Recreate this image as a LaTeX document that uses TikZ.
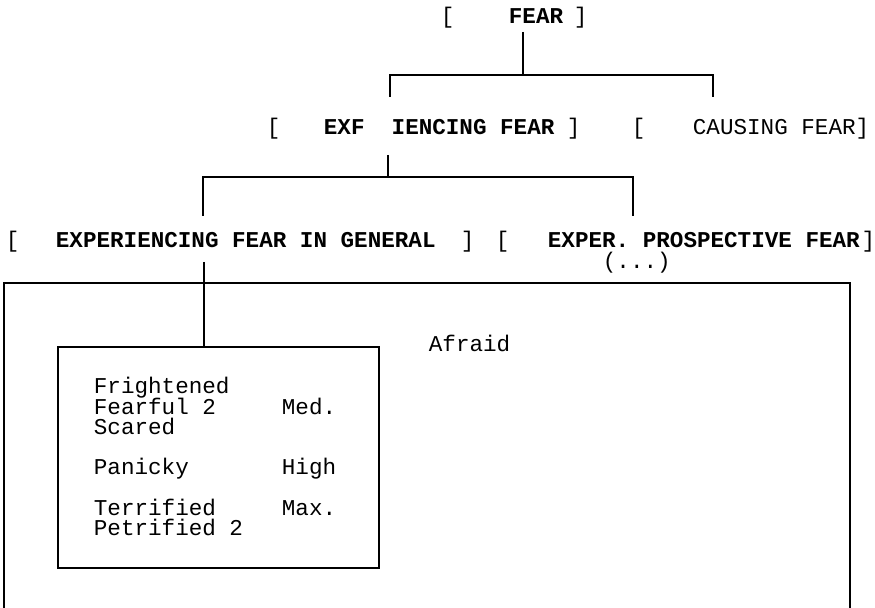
\documentclass[tikz,border=0pt]{standalone}
\usepackage{fontspec}
\setmonofont{Liberation Mono}
\usetikzlibrary{positioning}

\begin{document}
\begin{tikzpicture}[x=0.5pt,y=-0.5pt,
  txt/.style = {anchor=base west, inner sep=0pt,
  font=\ttfamily\fontsize{11.3}{13}\selectfont},
  head/.style = {txt, font=\ttfamily\bfseries\fontsize{11.3}{13}\selectfont},
  box/.style = {draw, rectangle, inner sep=0pt},
  line width=0.9pt
  ]
  \useasboundingbox (0,0) rectangle (875,608);

  % level 1
  \node[txt] (fearl) at (440,24) {[};
  \node[head] (fear) at (508,24) {FEAR};
  \node[txt] (fearr) at (573,24) {]};

  % level 2
  \node[txt] (expl) at (266,135) {[};
  \node[head] (exp) at (323,135) {EXF\ \ IENCING FEAR};
  \node[txt] (expr) at (566,135) {]};
  \node[txt] (causl) at (631,135) {[};
  \node[txt] (caus) at (692,135) {CAUSING FEAR]};

  % level 3
  \node[txt] (genl) at (5,248) {[};
  \node[head] (gen) at (55,248) {EXPERIENCING FEAR IN GENERAL};
  \node[txt] (genr) at (460,248) {]};
  \node[txt] (prospl) at (495,248) {[};
  \node[head] (prosp) at (547,248) {EXPER. PROSPECTIVE FEAR};
  \node[txt] (prospr) at (prosp.base east) {]};
  \node[txt] (dots) at (602,269) {(...)};

  % frame and inner box
  \coordinate (framebl) at (4,608);
  \coordinate (frametr) at (850,283);
  \coordinate (framebr) at (850,608);
  \draw (framebl) |- (frametr) -- (framebr);

  \node[txt] (afraid) at (428,352) {Afraid};

  \node[box, minimum width=160.5pt, minimum height=110.5pt,
  anchor=north west] (syn) at (57,346) {};

  \node[txt] (fright) at (93,394) {Frightened};
  \node[txt] (fearful) at (93,415) {Fearful 2};
  \node[txt] (scared) at (93,435) {Scared};
  \node[txt] (panicky) at (93,475) {Panicky};
  \node[txt] (terrif) at (93,516) {Terrified};
  \node[txt] (petrif) at (93,536) {Petrified 2};

  \node[txt] (med) at (281,415) {Med.};
  \node[txt] (high) at (281,475) {High};
  \node[txt] (max) at (281,516) {Max.};

  % tree connectors
  \coordinate (fearstem) at (523,32);
  \coordinate (fork1) at (523,75);
  \coordinate (expdrop) at (390,97);
  \coordinate (causdrop) at (713,97);
  \draw (fearstem) -- (fork1);
  \draw (expdrop) |- (fork1) -| (causdrop);

  \coordinate (expstem) at (388,155);
  \coordinate (fork2) at (388,177);
  \coordinate (gendrop) at (203,216);
  \coordinate (prospdrop) at (633,216);
  \draw (expstem) -- (fork2);
  \draw (gendrop) |- (fork2) -| (prospdrop);

  \coordinate (genstem) at (204,262);
  \draw (genstem) -- (genstem |- syn.north);

\end{tikzpicture}
\end{document}
